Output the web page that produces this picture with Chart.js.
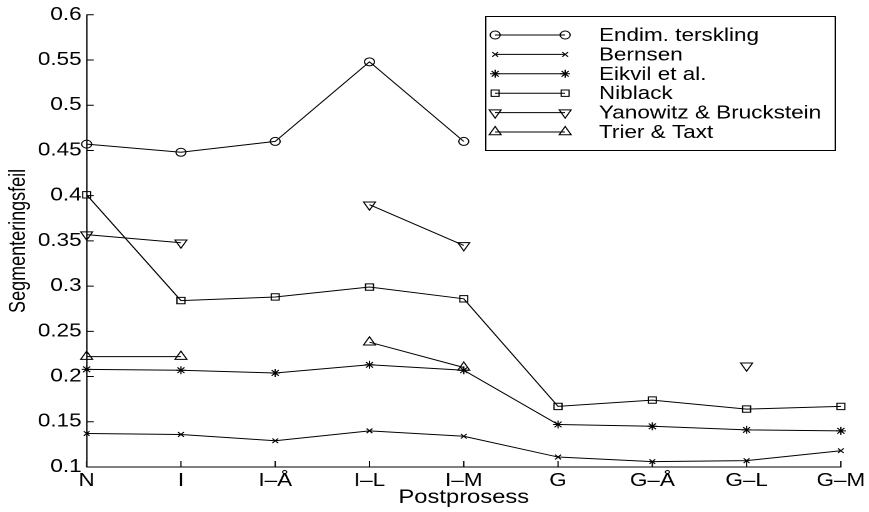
<!DOCTYPE html>
<html>
<head>
<meta charset="utf-8">
<script src="https://cdn.jsdelivr.net/npm/chart.js@4/dist/chart.umd.min.js"></script>
<style>
  html, body { margin: 0; padding: 0; background: #fff; overflow: hidden; }
  /* the figure is drawn narrower and widened horizontally */
  #wrap { width: 695px; height: 512px; transform: scaleX(1.25036); transform-origin: 0 0; }
</style>
</head>
<body>
<div id="wrap"><canvas id="c"></canvas></div>
<script>
// Post-processing variants on the x axis
const categories = ['N', 'I', 'I\u2013\u00C5', 'I\u2013L', 'I\u2013M', 'G', 'G\u2013\u00C5', 'G\u2013L', 'G\u2013M'];
// y axis tick values
const yTickValues = [0.1, 0.15, 0.2, 0.25, 0.3, 0.35, 0.4, 0.45, 0.5, 0.55, 0.6];

// Segmentation error per method (null = not measured)
const endim    = [0.457, 0.448, 0.460, 0.548, 0.460, null, null, null, null];
const bernsen  = [0.137, 0.136, 0.129, 0.140, 0.134, 0.111, 0.106, 0.107, 0.118];
const eikvil   = [0.208, 0.207, 0.204, 0.213, 0.207, 0.147, 0.145, 0.141, 0.140];
const niblack  = [0.401, 0.284, 0.288, 0.299, 0.286, 0.167, 0.174, 0.164, 0.167];
const yanowitz = [0.357, 0.348, null, 0.390, 0.345, null, null, 0.212, null];
const trier    = [0.222, 0.222, null, 0.238, 0.210, null, null, null, null];

const FONT = 'Liberation Sans, Arial, Helvetica, sans-serif';

function series(label, data, pointStyle, radius, rotation) {
  return {
    label, data, pointStyle,
    pointRadius: radius,
    pointRotation: rotation || 0,
    borderColor: '#000',
    borderWidth: 1,
    pointBorderColor: '#000',
    pointBackgroundColor: 'rgba(0,0,0,0)',
    pointBorderWidth: 1,
    pointHoverRadius: radius,
    tension: 0,
    spanGaps: false,
    fill: false
  };
}

// Inward tick marks on the left and bottom axes
const innerTicks = {
  id: 'innerTicks',
  afterDraw(chart) {
    const { ctx, chartArea: a, scales: { x, y } } = chart;
    ctx.save();
    ctx.strokeStyle = '#000';
    ctx.lineWidth = 1;
    ctx.beginPath();
    y.ticks.forEach(t => {
      const py = y.getPixelForValue(t.value);
      ctx.moveTo(a.left, py);
      ctx.lineTo(a.left + 5.6, py);
    });
    categories.forEach((c, i) => {
      const px = x.getPixelForValue(i);
      ctx.moveTo(px, a.bottom);
      ctx.lineTo(px, a.bottom - 6);
    });
    ctx.stroke();
    ctx.restore();
  }
};

function marker(ctx, style, r, rot, cx, cy) {
  if (Chart.helpers && Chart.helpers.drawPoint) {
    Chart.helpers.drawPoint(ctx, { pointStyle: style, radius: r, rotation: rot, borderWidth: 1 }, cx, cy);
    return;
  }
  ctx.beginPath();
  ctx.arc(cx, cy, r, 0, Math.PI * 2);
  ctx.stroke();
}

// Boxed legend: line sample with a marker at each end
const lineLegend = {
  id: 'lineLegend',
  afterDraw(chart) {
    const ctx = chart.ctx;
    const box = { left: 388.5, top: 16.5, right: 668, bottom: 150.5 };
    ctx.save();
    ctx.fillStyle = '#fff';
    ctx.fillRect(box.left, box.top, box.right - box.left, box.bottom - box.top);
    ctx.strokeStyle = '#000';
    ctx.lineWidth = 1;
    ctx.strokeRect(box.left, box.top, box.right - box.left, box.bottom - box.top);
    ctx.font = '18px ' + FONT;
    ctx.textBaseline = 'middle';
    ctx.textAlign = 'left';
    chart.data.datasets.forEach((ds, i) => {
      const yy = 35 + i * 19.4;
      ctx.strokeStyle = '#000';
      ctx.lineWidth = 1;
      ctx.beginPath();
      ctx.moveTo(396, yy);
      ctx.lineTo(452, yy);
      ctx.stroke();
      ctx.fillStyle = 'rgba(0,0,0,0)';
      marker(ctx, ds.pointStyle, ds.pointRadius, ds.pointRotation, 396, yy);
      ctx.fillStyle = 'rgba(0,0,0,0)';
      marker(ctx, ds.pointStyle, ds.pointRadius, ds.pointRotation, 452, yy);
      ctx.fillStyle = '#000';
      ctx.fillText(ds.label, 479, yy + 1);
    });
    ctx.restore();
  }
};

new Chart(document.getElementById('c'), {
  type: 'line',
  data: {
    labels: categories,
    datasets: [
      series('Endim. terskling', endim, 'circle', 4),
      series('Bernsen', bernsen, 'crossRot', 3.3),
      series('Eikvil et al.', eikvil, 'star', 4),
      series('Niblack', niblack, 'rect', 4.5),
      series('Yanowitz & Bruckstein', yanowitz, 'triangle', 5.5, 180),
      series('Trier & Taxt', trier, 'triangle', 5.5)
    ]
  },
  options: {
    responsive: true,
    maintainAspectRatio: false,
    animation: false,
    devicePixelRatio: 2,
    layout: { padding: { top: 12, right: 21, left: 0, bottom: 0 } },
    plugins: { legend: { display: false }, tooltip: { enabled: false } },
    scales: {
      x: {
        type: 'category',
        offset: false,
        grid: { display: false, drawTicks: false },
        border: { display: true, color: '#000', width: 1 },
        ticks: { color: '#000', font: { family: FONT, size: 18 }, padding: 3, maxRotation: 0, autoSkip: false },
        title: { display: true, text: 'Postprosess', color: '#000', font: { family: FONT, size: 19 }, padding: { top: 0, bottom: 3 } },
        afterFit(s) { s.height = 45; }
      },
      y: {
        min: 0.1,
        max: 0.6,
        grid: { display: false, drawTicks: false },
        border: { display: true, color: '#000', width: 1 },
        afterBuildTicks(s) { s.ticks = yTickValues.map(v => ({ value: v })); },
        ticks: {
          color: '#000',
          font: { family: FONT, size: 18 },
          padding: 4,
          callback: v => String(+v.toFixed(2))
        },
        title: { display: true, text: 'Segmenteringsfeil', color: '#000', font: { family: FONT, size: 18 }, padding: { top: 4, bottom: 0 } },
        afterFit(s) { s.width = 69.3; }
      }
    }
  },
  plugins: [innerTicks, lineLegend]
});
</script>
</body>
</html>
